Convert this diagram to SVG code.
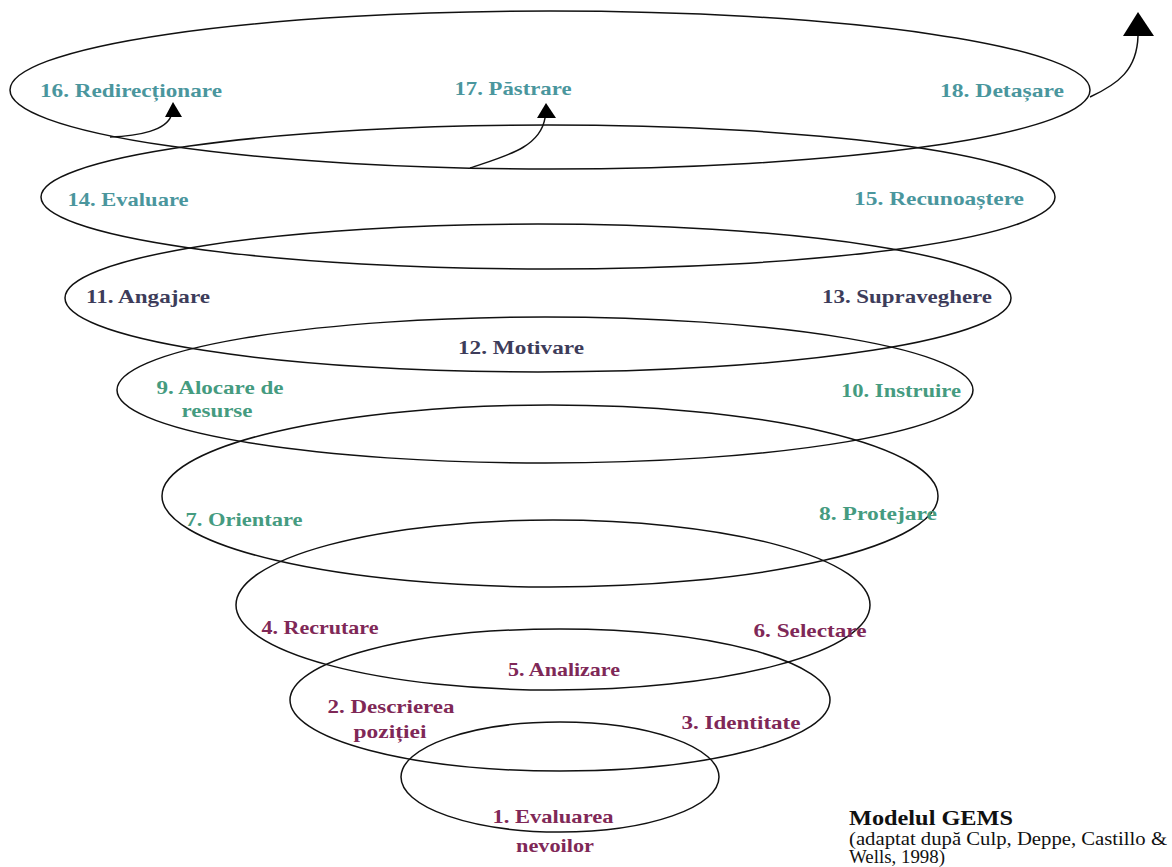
<svg xmlns="http://www.w3.org/2000/svg" width="1172" height="867" viewBox="0 0 1172 867">
<style>
.ring{fill:none;stroke:#111;stroke-width:1.5}
.lbl{font-family:"Liberation Serif","Times New Roman",Times,serif;font-weight:bold;font-size:19.5px;text-anchor:middle}
.teal{fill:#4a969d}
.slate{fill:#3d3c5a}
.green{fill:#459b80}
.maroon{fill:#7f2857}
.arrow{fill:none;stroke:#111;stroke-width:1.5}
.head{fill:#000}
.cap{font-family:"Liberation Serif","Times New Roman",Times,serif;fill:#111}
</style>
<rect width="1172" height="867" fill="#fff"/>
<g id="stage-18">
<ellipse class="ring" cx="550" cy="90" rx="540" ry="79"/>
<text class="lbl teal" x="131" y="97" textLength="182" lengthAdjust="spacingAndGlyphs">16. Redirecționare</text>
<text class="lbl teal" x="513" y="95" textLength="117" lengthAdjust="spacingAndGlyphs">17. Păstrare</text>
<text class="lbl teal" x="1002" y="97" textLength="124" lengthAdjust="spacingAndGlyphs">18. Detașare</text>
</g>
<g id="stage-15">
<ellipse class="ring" cx="548" cy="197" rx="507" ry="72"/>
<text class="lbl teal" x="128" y="206" textLength="121" lengthAdjust="spacingAndGlyphs">14. Evaluare</text>
<text class="lbl teal" x="939" y="205" textLength="170" lengthAdjust="spacingAndGlyphs">15. Recunoaștere</text>
</g>
<g id="stage-13">
<ellipse class="ring" cx="538" cy="298" rx="473" ry="74"/>
<text class="lbl slate" x="148" y="303" textLength="124" lengthAdjust="spacingAndGlyphs">11. Angajare</text>
<text class="lbl slate" x="907" y="303" textLength="170" lengthAdjust="spacingAndGlyphs">13. Supraveghere</text>
<text class="lbl slate" x="521" y="354" textLength="126" lengthAdjust="spacingAndGlyphs">12. Motivare</text>
</g>
<g id="stage-10">
<ellipse class="ring" cx="545" cy="390" rx="428" ry="73"/>
<text class="lbl green" x="220" y="394" textLength="127" lengthAdjust="spacingAndGlyphs">9. Alocare de</text>
<text class="lbl green" x="217" y="417" textLength="71" lengthAdjust="spacingAndGlyphs">resurse</text>
<text class="lbl green" x="901" y="397" textLength="120" lengthAdjust="spacingAndGlyphs">10. Instruire</text>
</g>
<g id="stage-8">
<ellipse class="ring" cx="550" cy="496" rx="388" ry="91"/>
<text class="lbl green" x="244" y="526" textLength="117" lengthAdjust="spacingAndGlyphs">7. Orientare</text>
<text class="lbl green" x="878" y="520" textLength="118" lengthAdjust="spacingAndGlyphs">8. Protejare</text>
</g>
<g id="stage-6">
<ellipse class="ring" cx="553" cy="605" rx="317" ry="85"/>
<text class="lbl maroon" x="320" y="634" textLength="117" lengthAdjust="spacingAndGlyphs">4. Recrutare</text>
<text class="lbl maroon" x="810" y="637" textLength="113" lengthAdjust="spacingAndGlyphs">6. Selectare</text>
</g>
<g id="stage-5">
<ellipse class="ring" cx="560" cy="700" rx="270" ry="71"/>
<text class="lbl maroon" x="564" y="676" textLength="112" lengthAdjust="spacingAndGlyphs">5. Analizare</text>
<text class="lbl maroon" x="391" y="713" textLength="127" lengthAdjust="spacingAndGlyphs">2. Descrierea</text>
<text class="lbl maroon" x="390" y="738" textLength="73" lengthAdjust="spacingAndGlyphs">poziției</text>
<text class="lbl maroon" x="741" y="729" textLength="119" lengthAdjust="spacingAndGlyphs">3. Identitate</text>
</g>
<g id="stage-1">
<ellipse class="ring" cx="560" cy="777" rx="159" ry="55"/>
<text class="lbl maroon" x="553" y="823" textLength="121" lengthAdjust="spacingAndGlyphs">1. Evaluarea</text>
<text class="lbl maroon" x="555" y="852" textLength="78" lengthAdjust="spacingAndGlyphs">nevoilor</text>
</g>
<g id="connectors">
<path class="arrow" d="M110,137 C140,136 166,130 171,116"/>
<polygon class="head" points="173,102 165,117 182,117"/>
<path class="arrow" d="M470,168 C505,156 540,148 545,118"/>
<polygon class="head" points="546,103 537,118 556,118"/>
<path class="arrow" d="M1090,97 C1118,84 1137,70 1138,36"/>
<polygon class="head" points="1138,12 1123,36 1154,36"/>
</g>
<g id="caption">
<text class="cap" x="849" y="825" font-size="21" font-weight="bold" textLength="164" lengthAdjust="spacingAndGlyphs">Modelul GEMS</text>
<text class="cap" x="849" y="845" font-size="18" textLength="318" lengthAdjust="spacingAndGlyphs">(adaptat după Culp, Deppe, Castillo &amp;</text>
<text class="cap" x="849" y="863" font-size="18" textLength="96" lengthAdjust="spacingAndGlyphs">Wells, 1998)</text>
</g>
</svg>
